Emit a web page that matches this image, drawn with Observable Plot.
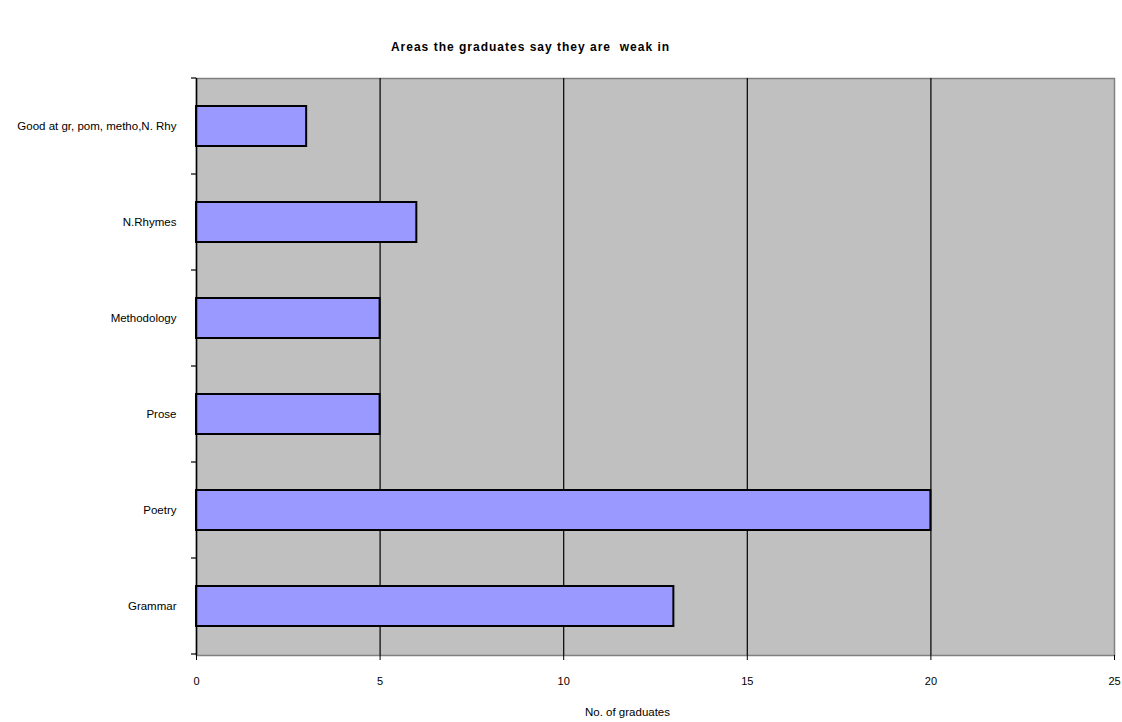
<!DOCTYPE html>
<html><head><meta charset="utf-8">
<script src="https://cdn.jsdelivr.net/npm/d3@7"></script>
<script src="https://cdn.jsdelivr.net/npm/@observablehq/plot@0.6"></script>
<style>
body{margin:0;background:#fff;}
#chart svg{display:block;}
.ttl text{letter-spacing:1px;}
</style>
</head><body><div id="chart"></div>
<script>
const categories = ["Good at gr, pom, metho,N. Rhy","N.Rhymes","Methodology","Prose","Poetry","Grammar"];
const values = [3,6,5,5,20,13];
const xTicks = [0,5,10,15,20,25];
const gridTicks = [5,10,15,20];
const title = "Areas the graduates say they are  weak in";
const xLabel = "No. of graduates";

const data = categories.map((c,i)=>({category:c, value:values[i]}));

const chart = Plot.plot({
  width: 1122,
  height: 722,
  marginLeft: 196,
  marginRight: 8,
  marginTop: 78,
  marginBottom: 67,
  style: {fontFamily: "'Liberation Sans', Arial, sans-serif", fontSize: "11px", color: "#000", background: "#fff"},
  x: {domain: [0,25], ticks: xTicks, label: null},
  y: {type: "band", domain: categories, paddingInner: 0.58, paddingOuter: 0.29, align: 0.5, label: null},
  marks: [
    Plot.frame({fill: "#c0c0c0", stroke: "#808080", strokeWidth: 1.5}),
    Plot.ruleX(gridTicks, {stroke: "#000", strokeWidth: 1.2}),
    Plot.barX(data, {x: "value", y: "category", fill: "#9999ff", stroke: "#000", strokeWidth: 2, inset: 0}),
    Plot.ruleX([0], {stroke: "#000", strokeWidth: 1.5}),
    Plot.ruleY([0], {frameAnchor: "bottom", stroke: "#000", strokeWidth: 1.5}),
    Plot.axisX({ticks: xTicks, tickSize: 5, tickPadding: 17, label: null, fontSize: 11}),
    Plot.axisY({tickSize: 0, tickPadding: 20, label: null, fontSize: 11.5}),
    Plot.text([title], {frameAnchor: "top", dy: -36, dx: -125, fontWeight: "bold", fontSize: 12, className: "ttl"}),
    Plot.text([xLabel], {frameAnchor: "bottom", dy: 60, dx: -28, fontSize: 11.5})
  ]
});

// tick marks on the y axis at category band boundaries
const ys = chart.scale("y");
const svg = d3.select(chart);
const x0 = 196;
const step = ys.step;
const yStart = ys.range[0];
const bounds = d3.range(categories.length + 1).map(i => yStart + i*step);
svg.append("g").selectAll("line").data(bounds).join("line")
  .attr("x1", x0 - 5).attr("x2", x0).attr("y1", d=>d).attr("y2", d=>d)
  .attr("stroke", "#000").attr("stroke-width", 1.2);

document.getElementById("chart").append(chart);
</script>
</body></html>
